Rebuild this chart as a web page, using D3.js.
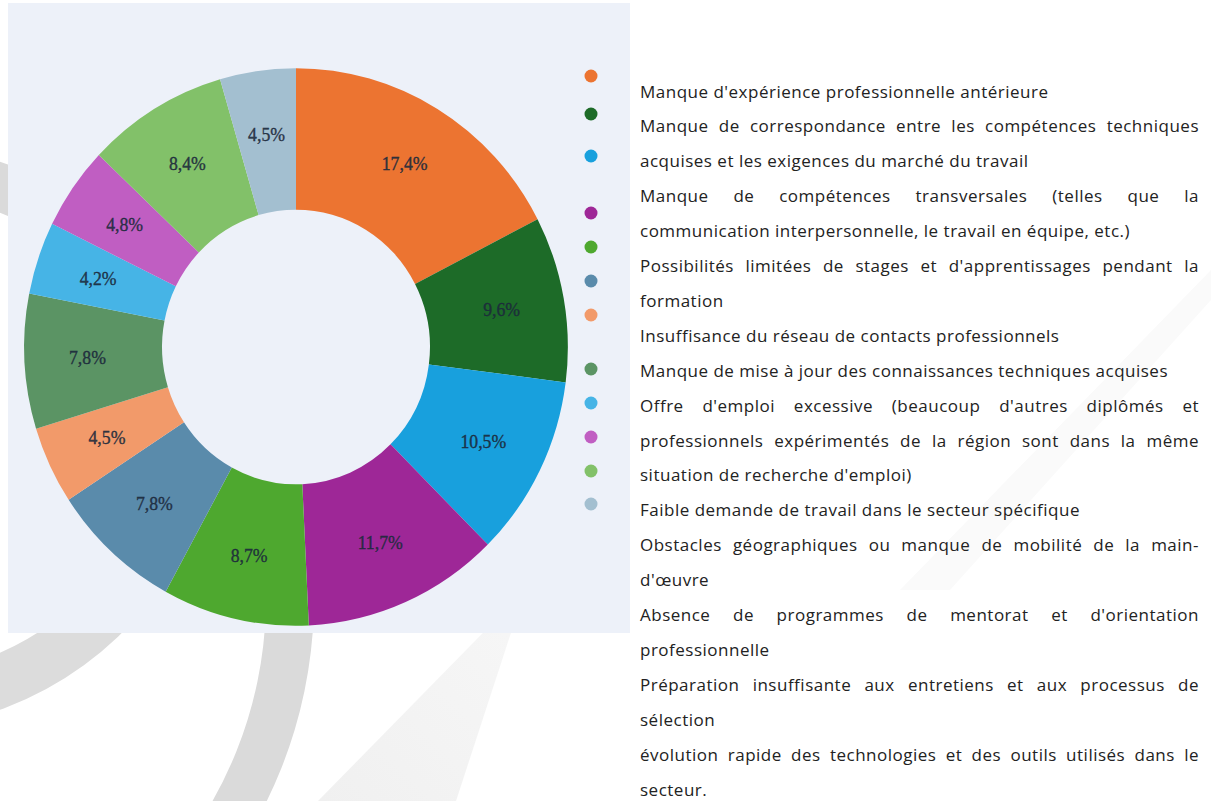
<!DOCTYPE html>
<html>
<head>
<meta charset="utf-8">
<script src="https://cdn.jsdelivr.net/npm/d3@7/dist/d3.min.js"></script>
<style>
  html, body { margin: 0; padding: 0; background: #ffffff; }
  svg { display: block; }
</style>
</head>
<body>
<svg id="chart" width="1211" height="801"></svg>
<script>
// ---------------- DATA ----------------
const categories = [
  "Manque d'expérience professionnelle antérieure",
  "Manque de correspondance entre les compétences techniques acquises et les exigences du marché du travail",
  "Manque de compétences transversales (telles que la communication interpersonnelle, le travail en équipe, etc.)",
  "Possibilités limitées de stages et d'apprentissages pendant la formation",
  "Insuffisance du réseau de contacts professionnels",
  "Manque de mise à jour des connaissances techniques acquises",
  "Offre d'emploi excessive (beaucoup d'autres diplômés et professionnels expérimentés de la région sont dans la même situation de recherche d'emploi)",
  "Faible demande de travail dans le secteur spécifique",
  "Obstacles géographiques ou manque de mobilité de la main-d'œuvre",
  "Absence de programmes de mentorat et d'orientation professionnelle",
  "Préparation insuffisante aux entretiens et aux processus de sélection",
  "évolution rapide des technologies et des outils utilisés dans le secteur."
];
const values = [17.4, 9.6, 10.5, 11.7, 8.7, 7.8, 4.5, 7.8, 4.2, 4.8, 8.4, 4.5];
const colors = ["#ec7431", "#1d6b28", "#18a0dd", "#9e2797", "#4ea82f", "#5a8bab",
                "#f29a6a", "#5b9464", "#46b4e6", "#c05ec2", "#82c169", "#a3bfd0"];

// legend text as laid out in the reference (lines per item; true = justified line)
const legendLines = [
  [["Manque d'expérience professionnelle antérieure", false]],
  [["Manque de correspondance entre les compétences techniques", true],
   ["acquises et les exigences du marché du travail", false]],
  [["Manque de compétences transversales (telles que la", true],
   ["communication interpersonnelle, le travail en équipe, etc.)", false]],
  [["Possibilités limitées de stages et d'apprentissages pendant la", true],
   ["formation", false]],
  [["Insuffisance du réseau de contacts professionnels", false]],
  [["Manque de mise à jour des connaissances techniques acquises", false]],
  [["Offre d'emploi excessive (beaucoup d'autres diplômés et", true],
   ["professionnels expérimentés de la région sont dans la même", true],
   ["situation de recherche d'emploi)", false]],
  [["Faible demande de travail dans le secteur spécifique", false]],
  [["Obstacles géographiques ou manque de mobilité de la main-", true],
   ["d'œuvre", false]],
  [["Absence de programmes de mentorat et d'orientation", true],
   ["professionnelle", false]],
  [["Préparation insuffisante aux entretiens et aux processus de", true],
   ["sélection", false]],
  [["évolution rapide des technologies et des outils utilisés dans le", true],
   ["secteur.", false]]
];
// legend dot rows (layout of the reference legend column)
const dotRows = [76, 114, 156, 213, 247, 281, 315, 369, 403, 437, 471, 504];

// ---------------- LAYOUT ----------------
const svg = d3.select("#chart");
const defs = svg.append("defs");

// decorative background swooshes
const bg = svg.append("g");
const grad = defs.append("linearGradient")
  .attr("id", "fade").attr("x1", "0%").attr("y1", "100%").attr("x2", "100%").attr("y2", "0%");
grad.append("stop").attr("offset", "0%").attr("stop-color", "#f0f0f0");
grad.append("stop").attr("offset", "100%").attr("stop-color", "#f7f7f7");

const bandArc = d3.arc();
bg.append("path")
  .attr("transform", "translate(-146,598)")
  .attr("d", bandArc({innerRadius: 412, outerRadius: 460, startAngle: 0.2, endAngle: 3.0}))
  .attr("fill", "#dadada");
bg.append("path")
  .attr("transform", "translate(-115,392)")
  .attr("d", bandArc({innerRadius: 285, outerRadius: 338, startAngle: 1.2, endAngle: 3.3}))
  .attr("fill", "#dcdcdc");
bg.append("path")
  .attr("d", "M318,801 L525,590 L456,801 Z")
  .attr("fill", "url(#fade)");
bg.append("path")
  .attr("d", "M900,590 L1211,270 L1211,300 L950,590 Z")
  .attr("fill", "#fafafa");

// panel behind the donut
svg.append("rect")
  .attr("x", 8).attr("y", 3).attr("width", 622).attr("height", 630)
  .attr("fill", "#edf1f9");

// donut
const cx = 296, cy = 347;
const outerR = 276, innerR = 136, labelR = 212;
const pie = d3.pie().sort(null).value(d => d)
  .startAngle(0).endAngle(2 * Math.PI);
const arcs = pie(values);
const arc = d3.arc().innerRadius(innerR).outerRadius(outerR);
const labelArc = d3.arc().innerRadius(labelR).outerRadius(labelR);

const g = svg.append("g").attr("transform", `translate(${cx},${cy}) scale(0.985,1.01)`);
g.selectAll("path.slice")
  .data(arcs)
  .join("path")
  .attr("class", "slice")
  .attr("d", arc)
  .attr("fill", (d, i) => colors[i]);

const fmt = v => d3.format(".1f")(v).replace(".", ",") + "%";
g.selectAll("text.lbl")
  .data(arcs)
  .join("text")
  .attr("class", "lbl")
  .attr("transform", d => `translate(${labelArc.centroid(d)})`)
  .attr("text-anchor", "middle")
  .attr("dominant-baseline", "central")
  .attr("font-family", "'Liberation Serif', 'Times New Roman', serif")
  .attr("font-size", 18)
  .attr("fill", "#1c2a3c")
  .attr("stroke", "#1c2a3c")
  .attr("stroke-width", 0.35)
  .attr("fill-opacity", 0.9)
  .text(d => fmt(d.data));

// legend dots
svg.append("g").selectAll("circle")
  .data(values)
  .join("circle")
  .attr("cx", 591)
  .attr("cy", (d, i) => dotRows[i])
  .attr("r", 6.5)
  .attr("fill", (d, i) => colors[i]);

// legend text
const textX = 640, textRight = 1199, lineStart = 91, lineH = 34.9;
const lg = svg.append("g")
  .attr("font-family", "'Open Sans', 'DejaVu Sans', sans-serif")
  .attr("font-size", 17)
  .attr("letter-spacing", 0.5)
  .attr("fill", "#222222");
let row = 0;
legendLines.forEach(item => {
  item.forEach(([line, justify]) => {
    const y = lineStart + row * lineH;
    if (!justify) {
      lg.append("text").attr("x", textX).attr("y", y)
        .attr("dominant-baseline", "central").text(line);
    } else {
      const words = line.split(" ");
      const nodes = words.map(w => lg.append("text").attr("y", y)
        .attr("dominant-baseline", "central").text(w));
      const widths = nodes.map(n => n.node().getComputedTextLength());
      const total = d3.sum(widths);
      const gap = (textRight - textX - total) / (words.length - 1);
      let x = textX;
      nodes.forEach((n, k) => { n.attr("x", x); x += widths[k] + gap; });
    }
    row++;
  });
});
</script>
</body>
</html>
